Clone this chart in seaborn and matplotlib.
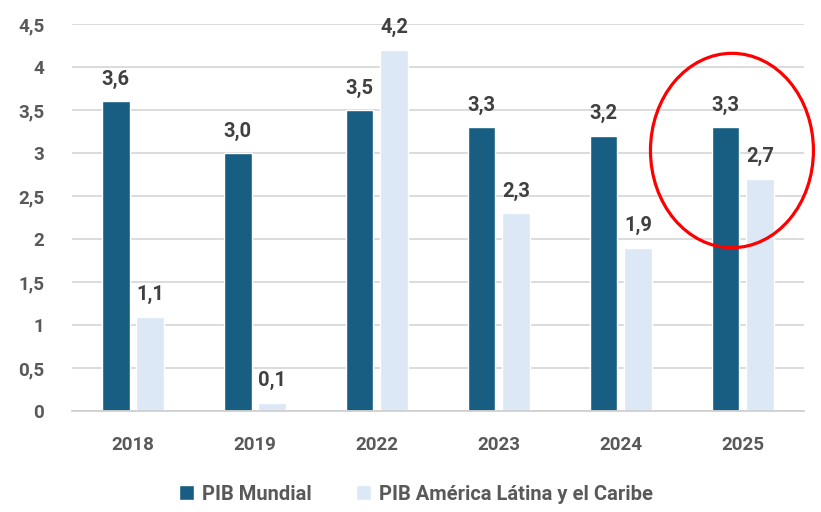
import matplotlib
matplotlib.use("Agg")
import matplotlib.pyplot as plt
import seaborn as sns
import pandas as pd
from matplotlib.patches import Ellipse

years = ["2018", "2019", "2022", "2023", "2024", "2025"]
pib_mundial = [3.6, 3.0, 3.5, 3.3, 3.2, 3.3]
pib_alc = [1.1, 0.1, 4.2, 2.3, 1.9, 2.7]
series_names = ["PIB Mundial", "PIB América Látina y el Caribe"]
y_ticks = [0, 0.5, 1, 1.5, 2, 2.5, 3, 3.5, 4, 4.5]

df = pd.DataFrame({
    "year": years * 2,
    "value": pib_mundial + pib_alc,
    "serie": [series_names[0]] * len(years) + [series_names[1]] * len(years),
})

sns.set_theme(style="white")
plt.rcParams["font.family"] = ["Roboto", "DejaVu Sans"]

fig = plt.figure(figsize=(8.21, 5.12), dpi=100)
ax = fig.add_axes([0.0877, 0.197, 0.8915, 0.756])

colors = ["#175e82", "#dce8f5"]
sns.barplot(data=df, x="year", y="value", hue="serie", palette=colors,
            width=0.57, gap=0.2, ax=ax, legend=True, saturation=1)

ax.set_ylim(0, 4.5)
ax.set_xlim(-0.5, len(years) - 0.5)
ax.set_yticks(y_ticks)
ax.set_yticklabels([f"{t:g}".replace(".", ",") for t in y_ticks])
ax.yaxis.grid(True, color="#d9d9d9", linewidth=1.3)
ax.set_axisbelow(True)
for s in ["top", "right", "left"]:
    ax.spines[s].set_visible(False)
ax.spines["bottom"].set_color("#d0d0d0")
ax.spines["bottom"].set_linewidth(1.3)
ax.set_xlabel("")
ax.set_ylabel("")
ax.tick_params(axis="both", length=0, labelsize=13.5, colors="#595959")
ax.tick_params(axis="y", pad=20)
ax.tick_params(axis="x", pad=18)
for lbl in ax.get_xticklabels() + ax.get_yticklabels():
    lbl.set_fontweight("bold")

for cont in ax.containers:
    labels = [f"{b.get_height():.1f}".replace(".", ",") for b in cont]
    ax.bar_label(cont, labels=labels, padding=9, fontsize=14.5,
                 fontweight="bold", color="#404040")

ell = Ellipse((4.91, 3.03), 1.336, 2.26, fill=False, edgecolor="#ff0000",
              linewidth=2.3, clip_on=False, zorder=5)
ax.add_patch(ell)

handles, lbls = ax.get_legend_handles_labels()
ax.legend(handles, lbls, loc="center", bbox_to_anchor=(0.47, -0.215),
          ncol=2, frameon=False, handlelength=0.75,
          handleheight=0.75, columnspacing=2.2, handletextpad=0.4,
          labelcolor="#595959", prop={"weight": "bold", "size": 14.5})

fig.savefig("out.png", dpi=100)
